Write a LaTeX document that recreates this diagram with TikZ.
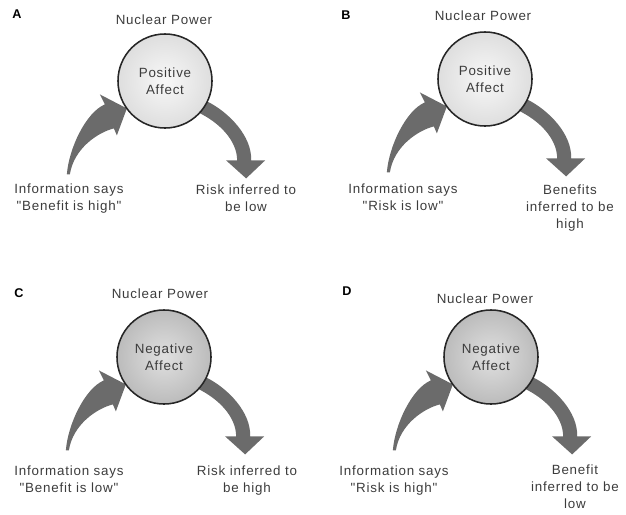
\documentclass[tikz,border=0pt]{standalone}
\usepackage{fontspec}
\setmainfont{Liberation Sans}[LetterSpace=6, Ligatures=TeXOff]
\usetikzlibrary{backgrounds}
\definecolor{txtgray}{HTML}{3C3C3C}
\definecolor{arrowgray}{HTML}{6B6B6B}
\definecolor{posin}{HTML}{F8F8F8}
\definecolor{posout}{HTML}{C4C4C4}
\definecolor{negin}{HTML}{E0E0E0}
\definecolor{negout}{HTML}{979797}
\pgfdeclareradialshading{posball}{\pgfpoint{0bp}{0bp}}{color(0bp)=(posin); color(50bp)=(posout)}
\pgfdeclareradialshading{negball}{\pgfpoint{0bp}{0bp}}{color(0bp)=(negin); color(50bp)=(negout)}
\tikzset{
    panel/.style={font=\bfseries\fontsize{9}{11}\selectfont, anchor=base},
    title/.style={text=txtgray, anchor=base},
    affect/.style={circle, draw=black!85, line width=1.1pt, minimum size=2.35cm, inner sep=0pt, text=txtgray, align=center},
    positive/.style={affect, shading=posball},
    negative/.style={affect, shading=negball},
    caption/.style={text=txtgray, align=center, anchor=base},
    infoarrow/.pic={
        \fill[arrowgray] (-59,66) .. controls (-57,40) and (-40,4) .. (-21,-4) -- (-26,-14) -- (1,0) -- (-9,27) -- (-12,20) .. controls (-28,24) and (-52,40) .. (-56,66) -- cycle;
    },
    inferarrow/.pic={
        \fill[arrowgray] (3,-7) .. controls (25,4) and (48,28) .. (47,52) -- (61,52) -- (42,70) -- (22,52) -- (33,52) .. controls (33,32) and (15,14) .. (-6,4) -- cycle;
    }
}
\begin{document}
\begin{tikzpicture}[x=0.025cm, y=-0.025cm, font=\fontsize{9.5}{12}\selectfont]
    \useasboundingbox (0,0) rectangle (626,514);

    \node[panel] (labA) at (17,18) {A};
    \node[title] (npA) at (164,24) {Nuclear Power};
    \node[positive] (affA) at (165,81) {Positive\\Affect};
    \node[caption] (infoA) at (69,210) {Information says\\"Benefit is high"};
    \node[caption] (inferA) at (246,211) {Risk inferred to\\be low};
    \begin{scope}[on background layer]
        \pic at (affA.215) {infoarrow};
        \pic at (affA.325) {inferarrow};
    \end{scope}

    \node[panel] (labB) at (346,19) {B};
    \node[title] (npB) at (483,20) {Nuclear Power};
    \node[positive] (affB) at (485,79) {Positive\\Affect};
    \node[caption] (infoB) at (403,210) {Information says\\"Risk is low"};
    \node[caption] (inferB) at (570,228) {Benefits\\inferred to be\\high};
    \begin{scope}[on background layer]
        \pic at (affB.215) {infoarrow};
        \pic at (affB.325) {inferarrow};
    \end{scope}

    \node[panel] (labC) at (19,297) {C};
    \node[title] (npC) at (160,298) {Nuclear Power};
    \node[negative] (affC) at (164,357) {Negative\\Affect};
    \node[caption] (infoC) at (69,492) {Information says\\"Benefit is low"};
    \node[caption] (inferC) at (247,492) {Risk inferred to\\be high};
    \begin{scope}[on background layer]
        \pic at (affC.215) {infoarrow};
        \pic at (affC.325) {inferarrow};
    \end{scope}

    \node[panel] (labD) at (347,295) {D};
    \node[title] (npD) at (485,303) {Nuclear Power};
    \node[negative] (affD) at (491,357) {Negative\\Affect};
    \node[caption] (infoD) at (394,492) {Information says\\"Risk is high"};
    \node[caption] (inferD) at (575,508) {Benefit\\inferred to be\\low};
    \begin{scope}[on background layer]
        \pic at (affD.215) {infoarrow};
        \pic at (affD.325) {inferarrow};
    \end{scope}
\end{tikzpicture}
\end{document}
